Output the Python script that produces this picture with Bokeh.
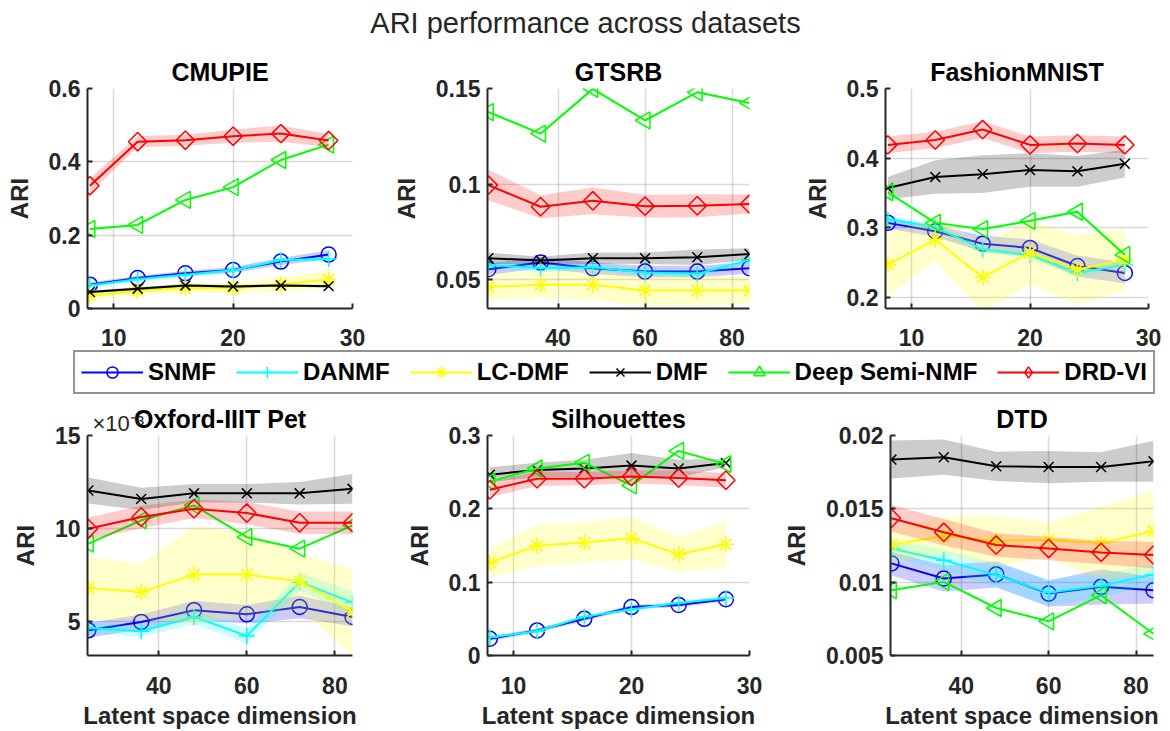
import math
from bokeh.plotting import figure
from bokeh.layouts import column, row
from bokeh.models import Range1d, FixedTicker, Legend, LegendItem, Label, ColumnDataSource, Title
from bokeh.embed import file_html
from bokeh.resources import INLINE
from bokeh.core.validation import silence
from bokeh.core.validation.warnings import MISSING_RENDERERS

silence(MISSING_RENDERERS, True)

# ---------------- data ----------------
METHODS = ["SNMF", "DANMF", "LC-DMF", "DMF", "Deep Semi-NMF", "DRD-VI"]
DIM_SMALL = [8, 12, 16, 20, 24, 28]
DIM_LARGE = [24, 36, 48, 60, 72, 84]
TITLE = "ARI performance across datasets"
X_LABEL = "Latent space dimension"
Y_LABEL = "ARI"
OXFORD_EXPONENT = "×10⁻³"

# CMUPIE
CMUPIE_SNMF = [0.065, 0.083, 0.096, 0.105, 0.128, 0.147]
CMUPIE_DANMF = [0.063, 0.080, 0.092, 0.104, 0.132, 0.135]
CMUPIE_LCDMF = [0.035, 0.048, 0.056, 0.055, 0.066, 0.079]
CMUPIE_DMF = [0.045, 0.054, 0.063, 0.060, 0.063, 0.061]
CMUPIE_DSNMF = [0.217, 0.228, 0.296, 0.331, 0.405, 0.447]
CMUPIE_DRDVI = [0.335, 0.455, 0.459, 0.470, 0.477, 0.458]
CMUPIE_SNMF_SD = [0.006, 0.006, 0.007, 0.008, 0.010, 0.012]
CMUPIE_DANMF_SD = [0.005, 0.005, 0.005, 0.006, 0.006, 0.006]
CMUPIE_LCDMF_SD = [0.012, 0.012, 0.013, 0.015, 0.020, 0.025]
CMUPIE_DMF_SD = [0.004, 0.004, 0.004, 0.004, 0.004, 0.004]
CMUPIE_DSNMF_SD = [0.002, 0.002, 0.002, 0.002, 0.002, 0.002]
CMUPIE_DRDVI_SD = [0.020, 0.015, 0.015, 0.018, 0.022, 0.018]

# GTSRB
GTSRB_SNMF = [0.0555, 0.0590, 0.0560, 0.0543, 0.0543, 0.0561]
GTSRB_DANMF = [0.0578, 0.0561, 0.0566, 0.0538, 0.0531, 0.0604]
GTSRB_LCDMF = [0.0462, 0.0474, 0.0474, 0.0444, 0.0444, 0.0444]
GTSRB_DMF = [0.0613, 0.0601, 0.0613, 0.0613, 0.0618, 0.0635]
GTSRB_DSNMF = [0.1377, 0.1264, 0.1498, 0.1333, 0.1480, 0.1424]
GTSRB_DRDVI = [0.0995, 0.0882, 0.0913, 0.0885, 0.0887, 0.0896]
GTSRB_SNMF_SD = [0.003, 0.003, 0.003, 0.003, 0.003, 0.003]
GTSRB_DANMF_SD = [0.002, 0.002, 0.002, 0.002, 0.002, 0.002]
GTSRB_LCDMF_SD = [0.007, 0.007, 0.008, 0.008, 0.008, 0.007]
GTSRB_DMF_SD = [0.003, 0.002, 0.003, 0.003, 0.004, 0.003]
GTSRB_DSNMF_SD = [0.0005, 0.0005, 0.0005, 0.0005, 0.0005, 0.0005]
GTSRB_DRDVI_SD = [0.008, 0.006, 0.007, 0.006, 0.006, 0.005]

# FashionMNIST
FMNIST_SNMF = [0.307, 0.295, 0.277, 0.271, 0.245, 0.235]
FMNIST_DANMF = [0.312, 0.301, 0.269, 0.261, 0.235, 0.247]
FMNIST_LCDMF = [0.247, 0.283, 0.229, 0.264, 0.240, 0.254]
FMNIST_DMF = [0.357, 0.373, 0.377, 0.383, 0.381, 0.392]
FMNIST_DSNMF = [0.351, 0.307, 0.298, 0.310, 0.323, 0.261]
FMNIST_DRDVI = [0.419, 0.426, 0.441, 0.419, 0.421, 0.419]
FMNIST_SNMF_SD = [0.008, 0.008, 0.012, 0.012, 0.015, 0.015]
FMNIST_DANMF_SD = [0.005, 0.005, 0.005, 0.005, 0.005, 0.005]
FMNIST_LCDMF_SD = [0.045, 0.030, 0.050, 0.045, 0.050, 0.045]
FMNIST_DMF_SD = [0.016, 0.024, 0.027, 0.024, 0.022, 0.020]
FMNIST_DSNMF_SD = [0.002, 0.002, 0.002, 0.002, 0.002, 0.002]
FMNIST_DRDVI_SD = [0.012, 0.012, 0.012, 0.012, 0.012, 0.012]

# Oxford-IIIT Pet (values in units of 1e-3)
OXFORD_SNMF = [4.55, 5.00, 5.63, 5.41, 5.80, 5.27]
OXFORD_DANMF = [4.68, 4.50, 5.27, 4.25, 7.14, 6.04]
OXFORD_LCDMF = [6.82, 6.60, 7.54, 7.54, 7.18, 5.54]
OXFORD_DMF = [12.05, 11.60, 11.90, 11.90, 11.90, 12.14]
OXFORD_DSNMF = [9.20, 10.45, 11.25, 9.55, 8.93, 10.18]
OXFORD_DRDVI = [10.00, 10.63, 11.07, 10.84, 10.32, 10.32]
OXFORD_SNMF_SD = [0.4, 0.4, 0.5, 0.5, 0.6, 0.5]
OXFORD_DANMF_SD = [0.3, 0.3, 0.4, 0.4, 0.5, 0.6]
OXFORD_LCDMF_SD = [1.7, 1.5, 2.6, 2.2, 1.5, 2.3]
OXFORD_DMF_SD = [0.7, 0.6, 0.5, 0.5, 0.6, 0.8]
OXFORD_DSNMF_SD = [0.05, 0.05, 0.05, 0.05, 0.05, 0.05]
OXFORD_DRDVI_SD = [0.6, 0.6, 0.5, 0.6, 0.6, 0.6]

# Silhouettes
SILH_SNMF = [0.0228, 0.0342, 0.0500, 0.0660, 0.0690, 0.0767]
SILH_DANMF = [0.0250, 0.0330, 0.0530, 0.0626, 0.0720, 0.0785]
SILH_LCDMF = [0.1265, 0.1498, 0.1540, 0.1600, 0.1380, 0.1516]
SILH_DMF = [0.2466, 0.2530, 0.2550, 0.2590, 0.2550, 0.2626]
SILH_DSNMF = [0.237, 0.255, 0.263, 0.232, 0.279, 0.261]
SILH_DRDVI = [0.226, 0.241, 0.241, 0.244, 0.242, 0.239]
SILH_SNMF_SD = [0.003, 0.003, 0.003, 0.003, 0.003, 0.003]
SILH_DANMF_SD = [0.002, 0.002, 0.002, 0.002, 0.002, 0.002]
SILH_LCDMF_SD = [0.019, 0.028, 0.027, 0.029, 0.024, 0.031]
SILH_DMF_SD = [0.010, 0.010, 0.012, 0.017, 0.012, 0.006]
SILH_DSNMF_SD = [0.001, 0.001, 0.001, 0.001, 0.001, 0.001]
SILH_DRDVI_SD = [0.010, 0.010, 0.009, 0.009, 0.010, 0.010]

# DTD
DTD_SNMF = [0.01128, 0.01025, 0.01053, 0.00922, 0.00968, 0.00945]
DTD_DANMF = [0.01230, 0.01150, 0.01048, 0.00929, 0.00975, 0.01053]
DTD_LCDMF = [0.01253, 0.01317, 0.01281, 0.01288, 0.01265, 0.01349]
DTD_DMF = [0.01836, 0.01852, 0.01790, 0.01785, 0.01785, 0.01824]
DTD_DSNMF = [0.00945, 0.01002, 0.00824, 0.00733, 0.00911, 0.00648]
DTD_DRDVI = [0.01436, 0.01340, 0.01253, 0.01230, 0.01203, 0.01185]
DTD_SNMF_SD = [0.0008, 0.0009, 0.0009, 0.0009, 0.0012, 0.0009]
DTD_DANMF_SD = [0.0006, 0.0007, 0.0008, 0.0009, 0.0008, 0.0007]
DTD_LCDMF_SD = [0.0012, 0.0013, 0.0017, 0.0012, 0.0025, 0.0028]
DTD_DMF_SD = [0.0013, 0.0012, 0.0010, 0.0011, 0.0010, 0.0014]
DTD_DSNMF_SD = [0.00005, 0.00005, 0.00005, 0.00005, 0.00005, 0.00005]
DTD_DRDVI_SD = [0.0009, 0.0009, 0.0008, 0.0008, 0.0008, 0.0009]

# axis ticks / labels
X_TICKS_SMALL = [10, 20, 30]
X_TICKS_LARGE = [40, 60, 80]
CMUPIE_YTICKS = [0, 0.2, 0.4, 0.6]
CMUPIE_YLABELS = ["0", "0.2", "0.4", "0.6"]
GTSRB_YTICKS = [0.05, 0.1, 0.15]
GTSRB_YLABELS = ["0.05", "0.1", "0.15"]
FMNIST_YTICKS = [0.2, 0.3, 0.4, 0.5]
FMNIST_YLABELS = ["0.2", "0.3", "0.4", "0.5"]
OXFORD_YTICKS = [5, 10, 15]
OXFORD_YLABELS = ["5", "10", "15"]
SILH_YTICKS = [0, 0.1, 0.2, 0.3]
SILH_YLABELS = ["0", "0.1", "0.2", "0.3"]
DTD_YTICKS = [0.005, 0.01, 0.015, 0.02]
DTD_YLABELS = ["0.005", "0.01", "0.015", "0.02"]

# ---------------- styles ----------------
FONT = "Liberation Sans"
AX_COLOR = "#262626"
COLORS = ["#0000FF", "#00FFFF", "#FFFF00", "#000000", "#00FF00", "#FF0000"]
MARKERS = ["circle", "cross", "asterisk", "x", "triangle", "square"]
LEG_MARKERS = ["circle", "cross", "asterisk", "x", "triangle", "diamond"]
ANGLES = [0, 0, 0, 0, math.pi / 2, math.pi / 4]
MSIZES = [15, 16, 16, 14, 17, 13]

PANELS = [
    dict(title="CMUPIE", x=DIM_SMALL, xr=(7.8, 30), yr=(0, 0.6), xt=X_TICKS_SMALL,
         yt=CMUPIE_YTICKS, yl=CMUPIE_YLABELS, exponent=None,
         means=[CMUPIE_SNMF, CMUPIE_DANMF, CMUPIE_LCDMF, CMUPIE_DMF, CMUPIE_DSNMF, CMUPIE_DRDVI],
         sds=[CMUPIE_SNMF_SD, CMUPIE_DANMF_SD, CMUPIE_LCDMF_SD, CMUPIE_DMF_SD, CMUPIE_DSNMF_SD, CMUPIE_DRDVI_SD]),
    dict(title="GTSRB", x=DIM_LARGE, xr=(23.8, 84), yr=(0.035, 0.15), xt=X_TICKS_LARGE,
         yt=GTSRB_YTICKS, yl=GTSRB_YLABELS, exponent=None,
         means=[GTSRB_SNMF, GTSRB_DANMF, GTSRB_LCDMF, GTSRB_DMF, GTSRB_DSNMF, GTSRB_DRDVI],
         sds=[GTSRB_SNMF_SD, GTSRB_DANMF_SD, GTSRB_LCDMF_SD, GTSRB_DMF_SD, GTSRB_DSNMF_SD, GTSRB_DRDVI_SD]),
    dict(title="FashionMNIST", x=DIM_SMALL, xr=(7.8, 30), yr=(0.184, 0.5), xt=X_TICKS_SMALL,
         yt=FMNIST_YTICKS, yl=FMNIST_YLABELS, exponent=None,
         means=[FMNIST_SNMF, FMNIST_DANMF, FMNIST_LCDMF, FMNIST_DMF, FMNIST_DSNMF, FMNIST_DRDVI],
         sds=[FMNIST_SNMF_SD, FMNIST_DANMF_SD, FMNIST_LCDMF_SD, FMNIST_DMF_SD, FMNIST_DSNMF_SD, FMNIST_DRDVI_SD]),
    dict(title="Oxford-IIIT Pet", x=DIM_LARGE, xr=(23.8, 84), yr=(3.2, 15), xt=X_TICKS_LARGE,
         yt=OXFORD_YTICKS, yl=OXFORD_YLABELS, exponent=OXFORD_EXPONENT,
         means=[OXFORD_SNMF, OXFORD_DANMF, OXFORD_LCDMF, OXFORD_DMF, OXFORD_DSNMF, OXFORD_DRDVI],
         sds=[OXFORD_SNMF_SD, OXFORD_DANMF_SD, OXFORD_LCDMF_SD, OXFORD_DMF_SD, OXFORD_DSNMF_SD, OXFORD_DRDVI_SD]),
    dict(title="Silhouettes", x=DIM_SMALL, xr=(7.8, 30), yr=(0, 0.3), xt=X_TICKS_SMALL,
         yt=SILH_YTICKS, yl=SILH_YLABELS, exponent=None,
         means=[SILH_SNMF, SILH_DANMF, SILH_LCDMF, SILH_DMF, SILH_DSNMF, SILH_DRDVI],
         sds=[SILH_SNMF_SD, SILH_DANMF_SD, SILH_LCDMF_SD, SILH_DMF_SD, SILH_DSNMF_SD, SILH_DRDVI_SD]),
    dict(title="DTD", x=DIM_LARGE, xr=(23.8, 84), yr=(0.005, 0.02), xt=X_TICKS_LARGE,
         yt=DTD_YTICKS, yl=DTD_YLABELS, exponent=None,
         means=[DTD_SNMF, DTD_DANMF, DTD_LCDMF, DTD_DMF, DTD_DSNMF, DTD_DRDVI],
         sds=[DTD_SNMF_SD, DTD_DANMF_SD, DTD_LCDMF_SD, DTD_DMF_SD, DTD_DSNMF_SD, DTD_DRDVI_SD]),
]

# column geometry: (min_border_left, frame_width, min_border_right)
COLS = [(87, 265, 30), (105, 262, 30), (106, 263, 20)]
# row geometry: (min_border_top, frame_height, min_border_bottom)
ROWS = [(42, 220, 42), (33, 220, 76)]


def style_axis(ax):
    ax.axis_line_width = 2
    ax.axis_line_color = AX_COLOR
    ax.major_tick_in = 5
    ax.major_tick_out = 0
    ax.major_tick_line_width = 2
    ax.major_tick_line_color = AX_COLOR
    ax.minor_tick_line_color = None
    ax.major_label_text_font = FONT
    ax.major_label_text_font_size = "23px"
    ax.major_label_text_font_style = "bold"
    ax.major_label_text_color = AX_COLOR
    ax.axis_label_text_font = FONT
    ax.axis_label_text_font_size = "24px"
    ax.axis_label_text_font_style = "bold"
    ax.axis_label_text_color = AX_COLOR


def make_title(text):
    return Title(text=text, align="center", text_font=FONT, text_font_size="25px",
                 text_font_style="bold", text_color="#000000", standoff=5)


def make_panel(i, cfg):
    r, c = divmod(i, 3)
    bl, fw, br = COLS[c]
    bt, fh, bb = ROWS[r]
    p = figure(frame_width=fw, frame_height=fh,
               min_border_left=bl, min_border_right=br,
               min_border_top=bt, min_border_bottom=bb,
               x_range=Range1d(*cfg["xr"]), y_range=Range1d(*cfg["yr"]),
               output_backend="svg", toolbar_location=None, title=None)
    p.outline_line_color = None
    p.background_fill_color = "white"
    p.border_fill_color = "white"

    # dataset title (closest to the frame)
    p.add_layout(make_title(cfg["title"]), "above")
    if cfg["exponent"] is not None:
        # axis exponent, drawn on the same line as the dataset title, at the left
        p.add_layout(Title(text=cfg["exponent"], align="left", offset=5, standoff=-71,
                           text_font=FONT, text_font_size="22px", text_font_style="normal",
                           text_color=AX_COLOR), "above")

    xa = p.xaxis[0]
    ya = p.yaxis[0]
    style_axis(xa)
    style_axis(ya)
    xa.ticker = FixedTicker(ticks=cfg["xt"])
    xa.major_label_overrides = {t: str(t) for t in cfg["xt"]}
    ya.ticker = FixedTicker(ticks=cfg["yt"])
    ya.major_label_overrides = {t: lab for t, lab in zip(cfg["yt"], cfg["yl"])}
    ya.axis_label = Y_LABEL
    ya.major_label_standoff = 7
    ya.axis_label_standoff = 13
    if r == 0:
        xa.major_label_standoff = 20
    else:
        xa.major_label_standoff = 21
        xa.axis_label = X_LABEL
        xa.axis_label_standoff = 5

    for g in (p.xgrid[0], p.ygrid[0]):
        g.grid_line_color = "#000000"
        g.grid_line_alpha = 0.15
        g.grid_line_width = 1.5

    for k in range(len(METHODS)):
        m = cfg["means"][k]
        s = cfg["sds"][k]
        src = ColumnDataSource(dict(x=cfg["x"], y=m,
                                    lo=[a - b for a, b in zip(m, s)],
                                    hi=[a + b for a, b in zip(m, s)]))
        p.varea(x="x", y1="lo", y2="hi", source=src, fill_color=COLORS[k], fill_alpha=0.2)
        p.line("x", "y", source=src, line_color=COLORS[k], line_width=2)
        p.scatter("x", "y", source=src, marker=MARKERS[k], size=MSIZES[k], angle=ANGLES[k],
                  line_color=COLORS[k], fill_color=None, line_width=1.5)
    return p


figs = [make_panel(i, cfg) for i, cfg in enumerate(PANELS)]

# header with overall title
header = figure(width=1168, height=46, x_axis_location=None, y_axis_location=None,
                min_border=0, toolbar_location=None, output_backend="svg",
                x_range=Range1d(0, 1), y_range=Range1d(0, 1))
header.outline_line_color = None
header.xgrid.visible = False
header.ygrid.visible = False
header.add_layout(Label(x=585, y=24, x_units="screen", y_units="screen", text=TITLE,
                        text_font=FONT, text_font_size="29px", text_color=AX_COLOR,
                        text_align="center", text_baseline="middle"))

# legend strip (its renderers lie outside the strip's ranges; only the legend shows)
leg_fig = figure(width=1168, height=50, x_axis_location=None, y_axis_location=None,
                 min_border=0, toolbar_location=None, output_backend="svg",
                 x_range=Range1d(-1, 0), y_range=Range1d(-1, 0))
leg_fig.outline_line_color = None
leg_fig.xgrid.visible = False
leg_fig.ygrid.visible = False
LEG_SRC_Y = PANELS[0]["means"]
items = []
for k, name in enumerate(METHODS):
    src = ColumnDataSource(dict(x=DIM_SMALL, y=LEG_SRC_Y[k]))
    r1 = leg_fig.line("x", "y", source=src, line_color=COLORS[k], line_width=2)
    r2 = leg_fig.scatter("x", "y", source=src, marker=LEG_MARKERS[k], size=MSIZES[k],
                         line_color=COLORS[k], fill_color=None, line_width=1.5)
    items.append(LegendItem(label=name, renderers=[r1, r2]))
legend = Legend(items=items, orientation="horizontal", location=(73, 6),
                glyph_width=62, glyph_height=28, label_standoff=5, spacing=20,
                padding=6, margin=0,
                label_text_font=FONT, label_text_font_size="24px", label_text_font_style="bold",
                label_text_color="#000000",
                border_line_color=AX_COLOR, border_line_width=2, background_fill_alpha=1)
leg_fig.add_layout(legend)

layout = column(header, row(figs[0], figs[1], figs[2]), leg_fig,
                row(figs[3], figs[4], figs[5]), spacing=0)

open("out.html", "w").write(file_html(layout, INLINE))
